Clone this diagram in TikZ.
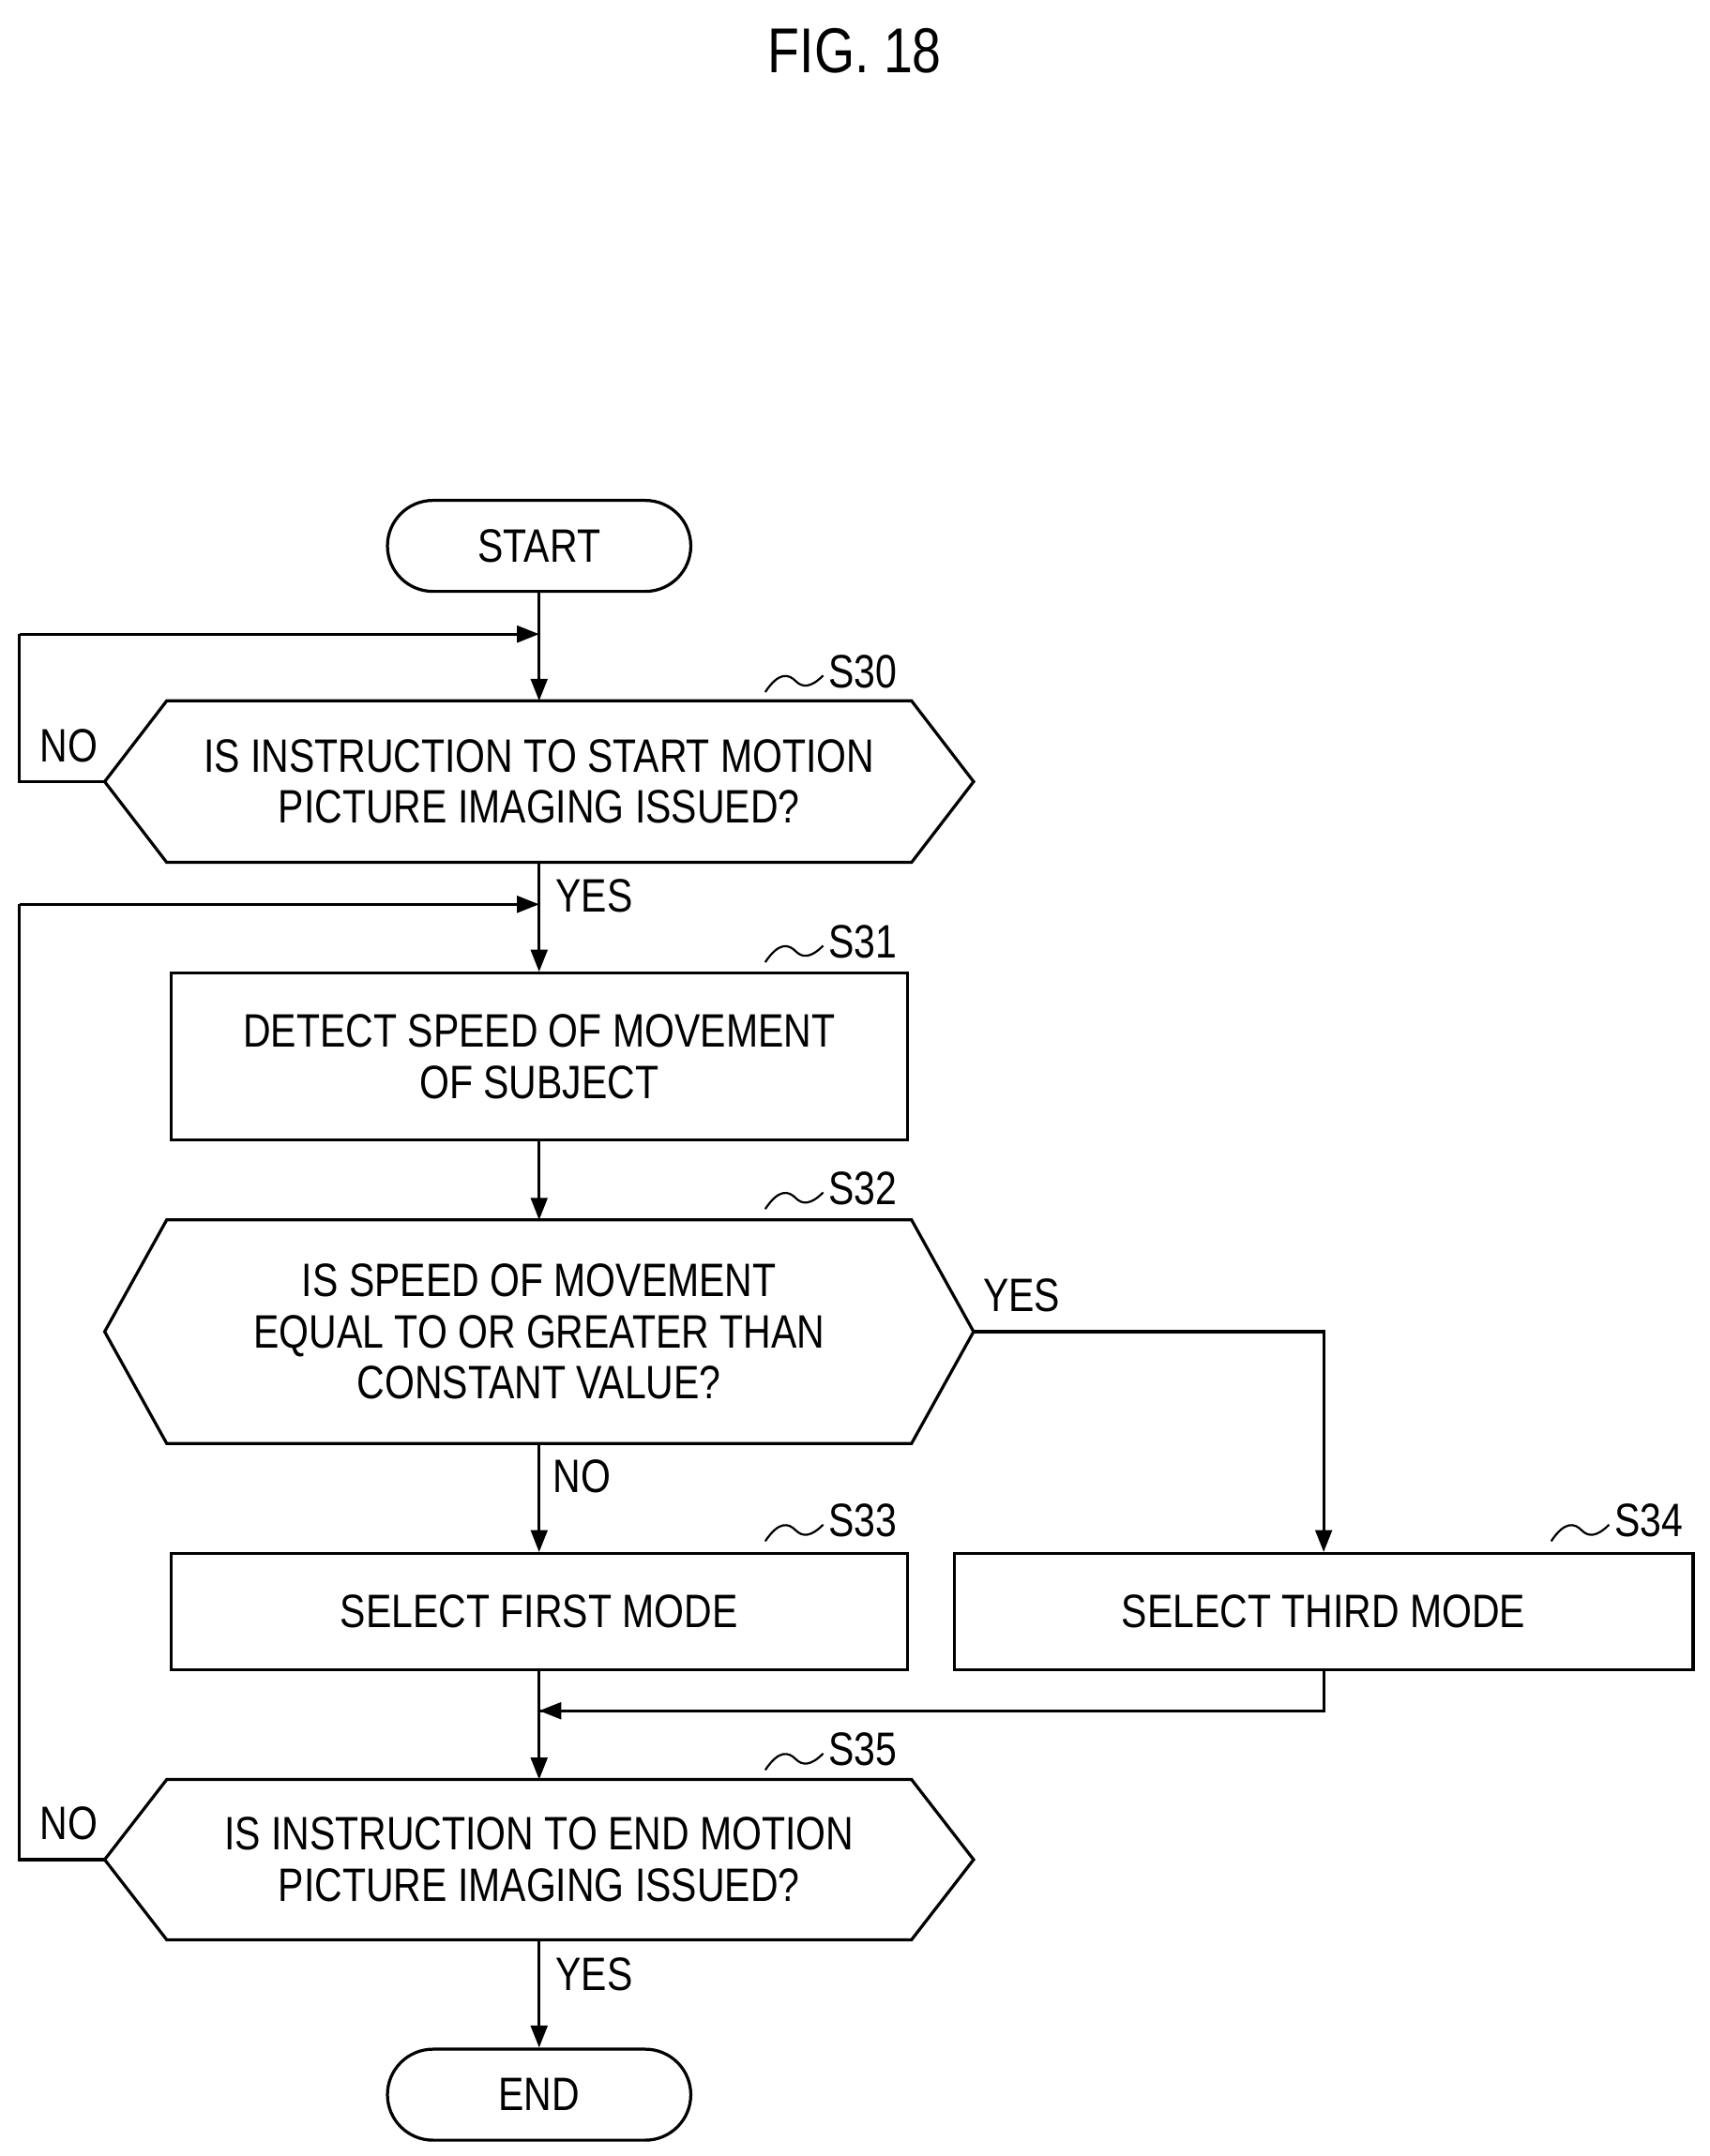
\documentclass[tikz,border=0pt]{standalone}
\usepackage{fontspec}
\setmainfont{Liberation Sans}[FakeStretch=0.82]
\usetikzlibrary{arrows.meta}
\begin{document}
\begin{tikzpicture}[x=1pt,y=-1pt,line width=2.2pt,
  txt/.style={font=\fontsize{34}{37}\selectfont,align=center,inner sep=0},
  box/.style={draw,rectangle,txt},
  term/.style={draw,rounded corners=33pt,txt,minimum width=220pt,minimum height=66pt},
  hx/.style={txt},
  lab/.style={txt,anchor=west},
  arr/.style={-{Triangle[length=16pt,width=12pt]}}]
\useasboundingbox (0,0) rectangle (1240,1564);
\node[txt,font=\fontsize{46}{50}\selectfont] (title) at (620,37) {FIG. 18};
\node[term] (start) at (391,396) {START};
\node[hx,minimum width=628pt,minimum height=115pt] (s30) at (391,567) {IS INSTRUCTION TO START MOTION\\PICTURE IMAGING ISSUED?};
\node[box,minimum width=534pt,minimum height=121pt] (s31) at (391,766.5) {DETECT SPEED OF MOVEMENT\\OF SUBJECT};
\node[hx,minimum width=628pt,minimum height=160pt] (s32) at (391,966) {IS SPEED OF MOVEMENT\\EQUAL TO OR GREATER THAN\\CONSTANT VALUE?};
\node[box,minimum width=534pt,minimum height=84pt] (s33) at (391,1169) {SELECT FIRST MODE};
\node[box,minimum width=536pt,minimum height=84pt] (s34) at (960,1169) {SELECT THIRD MODE};
\node[hx,minimum width=628pt,minimum height=114pt] (s35) at (391,1349) {IS INSTRUCTION TO END MOTION\\PICTURE IMAGING ISSUED?};
\node[term] (end) at (391,1519.5) {END};
\foreach \n in {s30,s32,s35}{
  \draw (\n.west) -- ([xshift=45pt]\n.north west) -- ([xshift=-45pt]\n.north east) -- (\n.east) -- ([xshift=-45pt]\n.south east) -- ([xshift=45pt]\n.south west) -- cycle;}
% step labels
\foreach \x/\y/\t in {600/487/S30,600/683/S31,600/862/S32,600/1103/S33,1170/1103/S34,600/1269/S35}{
  \draw[line width=1.5pt] (\x-45,\y+15) .. controls (\x-35,\y) and (\x-28,\y+2) .. (\x-23,\y+7) .. controls (\x-18,\y+12) and (\x-12,\y+12) .. (\x-3,\y+3);
  \node[lab] at (\x,\y) {\t};}
% connectors
\coordinate (j1) at (391,460);
\coordinate (j2) at (391,656);
\coordinate (j3) at (391,1241);
\draw (start) -- (j1);
\draw[arr] (j1) -- (s30.north);
\draw (s30.west) -- (14,567) -- (14,460) coordinate (c1);
\draw[arr] (c1) -- (j1);
\draw (s30.south) -- (j2);
\draw[arr] (j2) -- (s31);
\draw (s35.west) -- (14,1349) -- (14,656) coordinate (c2);
\draw[arr] (c2) -- (j2);
\draw[arr] (s31) -- (s32.north);
\draw[arr] (s32.south) -- (s33);
\draw[arr] (s32.east) -| (s34.north);
\draw (s33) -- (j3);
\draw (s34.south) |- (j3) coordinate[pos=1] (c3);
\draw[arr] (960,1241) -- (j3);
\draw[arr] (j3) -- (s35.north);
\draw[arr] (s35.south) -- (end);
\node[txt] at (50,541) {NO};
\node[lab] at (402,650) {YES};
\node[lab] at (712,940) {YES};
\node[lab] at (400,1071) {NO};
\node[txt] at (50,1323) {NO};
\node[lab] at (402,1432) {YES};
\end{tikzpicture}
\end{document}
